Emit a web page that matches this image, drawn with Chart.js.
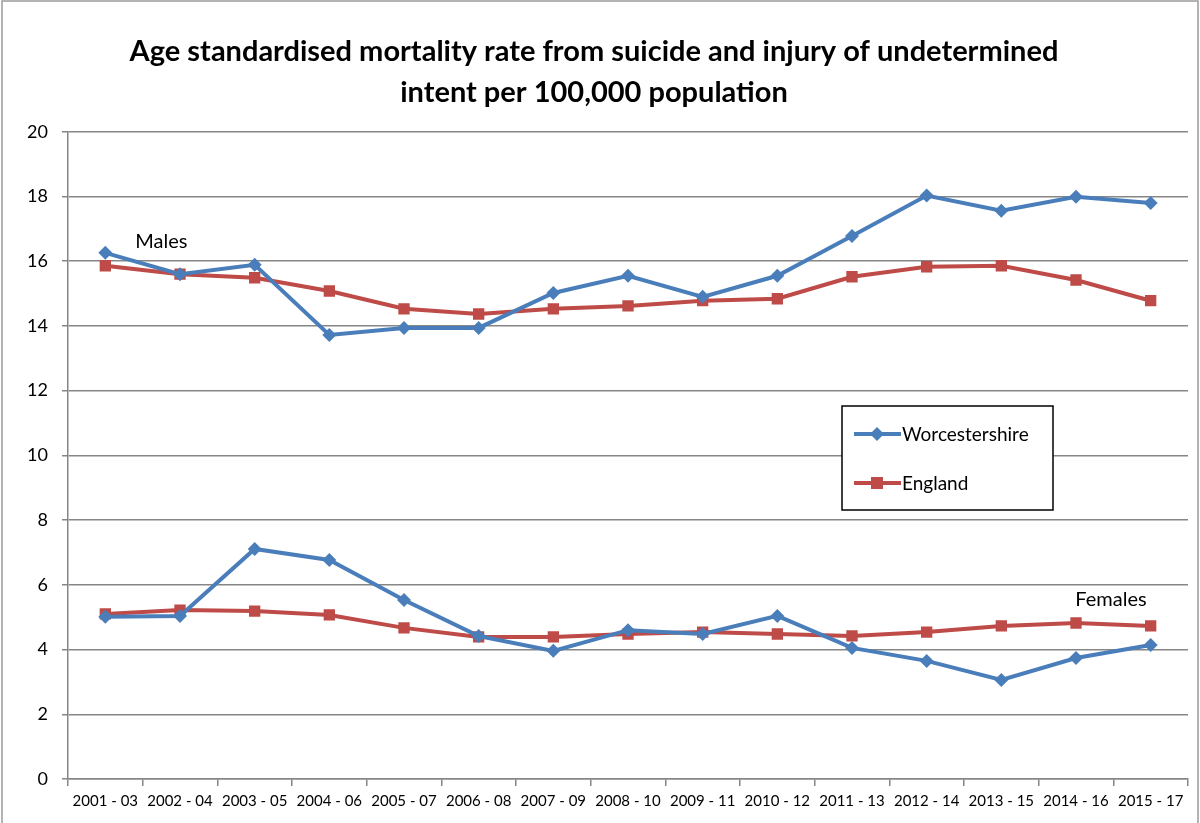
<!DOCTYPE html>
<html>
<head>
<meta charset="utf-8">
<script src="https://cdn.jsdelivr.net/npm/chart.js@4"></script>
<style>
  html, body { margin: 0; padding: 0; background: #fff; }
  #wrap { width: 1200px; height: 823px; }
</style>
</head>
<body>
<div id="wrap"><canvas id="chart" width="1200" height="823"></canvas></div>
<script>
const periods = ["2001 - 03", "2002 - 04", "2003 - 05", "2004 - 06", "2005 - 07", "2006 - 08", "2007 - 09",
    "2008 - 10", "2009 - 11", "2010 - 12", "2011 - 13", "2012 - 14", "2013 - 15", "2014 - 16", "2015 - 17"]

const worcsMales = [16.26, 15.6, 15.89, 13.72, 13.94, 13.94, 15.02, 15.55, 14.9, 15.55, 16.78, 18.03, 17.56, 17.99, 17.8]
const englandMales = [15.86, 15.6, 15.49, 15.08, 14.53, 14.37, 14.53, 14.62, 14.78, 14.84, 15.52, 15.83, 15.86, 15.42, 14.78]
const worcsFemales = [5.01, 5.04, 7.11, 6.77, 5.53, 4.42, 3.96, 4.6, 4.48, 5.04, 4.05, 3.65, 3.06, 3.74, 4.14]
const englandFemales = [5.1, 5.22, 5.19, 5.07, 4.67, 4.39, 4.39, 4.48, 4.54, 4.48, 4.42, 4.54, 4.73, 4.82, 4.73]

const yTicks = [0, 2, 4, 6, 8, 10, 12, 14, 16, 18, 20]

const blue = "#4A7EBB"
const red = "#BE4B48"
const fontFamily = "Lato, 'Open Sans', sans-serif"

function series(label, data, color, shape, radius) {
    return {
        label: label,
        data: data,
        borderColor: color,
        backgroundColor: color,
        borderWidth: 4,
        pointStyle: shape,
        pointRadius: radius,
        pointBorderWidth: 0,
        tension: 0
    }
}

// white page with thin grey frame
const frame = {
    id: "frame",
    beforeDraw(chart) {
        const { ctx, width, height } = chart
        ctx.save()
        ctx.fillStyle = "#fff"
        ctx.fillRect(0, 0, width, height)
        ctx.strokeStyle = "#9a9a9a"
        ctx.lineWidth = 1.5
        ctx.strokeRect(2, 1, width - 4, height + 4)
        ctx.restore()
    }
}

// Males / Females labels and the boxed legend
const annotations = {
    id: "annotations",
    afterDraw(chart) {
        const { ctx, scales } = chart
        const x = scales.x, y = scales.y
        ctx.save()
        ctx.fillStyle = "#000"
        ctx.font = "20px " + fontFamily
        ctx.textBaseline = "middle"
        ctx.textAlign = "left"
        ctx.fillText("Males", x.getPixelForValue(0) + 30, y.getPixelForValue(16.6))
        ctx.textAlign = "right"
        ctx.fillText("Females", x.getPixelForValue(14) - 4, y.getPixelForValue(5.55))

        // legend box
        const lx = 842, ly = 406, lw = 211, lh = 104
        ctx.fillStyle = "#fff"
        ctx.fillRect(lx, ly, lw, lh)
        ctx.strokeStyle = "#000"
        ctx.lineWidth = 1.5
        ctx.strokeRect(lx, ly, lw, lh)
        const items = [
            { text: "Worcestershire", color: blue, shape: "diamond", cy: ly + 28 },
            { text: "England", color: red, shape: "square", cy: ly + 77 }
        ]
        ctx.font = "19px " + fontFamily
        ctx.textAlign = "left"
        items.forEach(it => {
            ctx.strokeStyle = it.color
            ctx.fillStyle = it.color
            ctx.lineWidth = 4
            ctx.beginPath()
            ctx.moveTo(lx + 12, it.cy)
            ctx.lineTo(lx + 59, it.cy)
            ctx.stroke()
            const cx = lx + 35
            if (it.shape === "diamond") {
                ctx.beginPath()
                ctx.moveTo(cx, it.cy - 7)
                ctx.lineTo(cx + 7, it.cy)
                ctx.lineTo(cx, it.cy + 7)
                ctx.lineTo(cx - 7, it.cy)
                ctx.closePath()
                ctx.fill()
            } else {
                ctx.fillRect(cx - 6, it.cy - 6, 12, 12)
            }
            ctx.fillStyle = "#000"
            ctx.fillText(it.text, lx + 60, it.cy + 1)
        })
        ctx.restore()
    }
}

new Chart(document.getElementById("chart"), {
    type: "line",
    data: {
        labels: periods,
        datasets: [
            series("Worcestershire", worcsMales, blue, "rectRot", 7),
            series("England", englandMales, red, "rect", 8),
            series("Worcestershire", worcsFemales, blue, "rectRot", 7),
            series("England", englandFemales, red, "rect", 8)
        ]
    },
    options: {
        responsive: false,
        animation: false,
        events: [],
        layout: { padding: { top: 0, right: 12, bottom: 0, left: 0 } },
        plugins: {
            legend: { display: false },
            tooltip: { enabled: false },
            title: {
                display: true,
                text: ["Age standardised mortality rate from suicide and injury of undetermined",
                    "intent per 100,000 population"],
                color: "#000",
                font: { family: fontFamily, size: 29, weight: "bold", lineHeight: 1.41 },
                padding: { top: 31, bottom: 19 }
            }
        },
        scales: {
            x: {
                offset: true,
                grid: {
                    offset: true,
                    drawOnChartArea: false,
                    drawTicks: true,
                    tickLength: 7,
                    color: "#868686",
                    lineWidth: 1.5
                },
                border: { color: "#868686", width: 1.5 },
                ticks: {
                    color: "#000",
                    font: { family: fontFamily, size: 15 },
                    maxRotation: 0,
                    autoSkip: false,
                    padding: 6
                },
                afterFit(scale) { scale.height = 44 }
            },
            y: {
                min: 0,
                max: 20,
                afterBuildTicks(scale) { scale.ticks = yTicks.map(v => ({ value: v })) },
                grid: {
                    color: "#868686",
                    lineWidth: 1.5,
                    tickLength: 6
                },
                border: { color: "#868686", width: 1.5 },
                ticks: {
                    color: "#000",
                    font: { family: fontFamily, size: 18 },
                    padding: 14
                },
                afterFit(scale) { scale.width = 68 }
            }
        }
    },
    plugins: [frame, annotations]
})
</script>
</body>
</html>
